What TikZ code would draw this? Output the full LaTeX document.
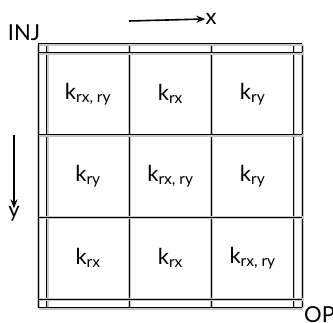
\documentclass[tikz,border=0pt]{standalone}
\usepackage{fontspec}
\setmainfont{Lato}
\usetikzlibrary{arrows.meta,positioning}

\newcommand{\ksub}[1]{k\raisebox{-2.5pt}{\fontsize{15.5}{16}\selectfont #1}}

\tikzset{
  gridline/.style={line width=1pt, draw=black,
    preaction={draw=black!22, line width=2.8pt, transform canvas={shift={(0.5pt,-0.6pt)}}}},
  axisarrow/.style={-{Stealth[length=9pt,width=7pt]}, line width=1.6pt},
  tag/.style={font=\fontsize{22}{24}\selectfont, inner sep=0pt},
}

\begin{document}
\begin{tikzpicture}[x=1pt, y=-1pt]
  \useasboundingbox (0,0) rectangle (333,323);
  % frame and cells
  \foreach \v in {38.3,46.7,129,211.3,293.5,302}
    \draw[gridline] (\v,44) -- (\v,307.7);
  \foreach \h in {44,52.7,135,217.2,299.3,307.7}
    \draw[gridline] (38.3,\h) -- (302,\h);
  % permeabilities
  \node[tag] (k11) at (87.8,94)  {\ksub{rx, ry}};
  \node[tag] (k12) at (170.2,94) {\ksub{rx}};
  \node[tag] (k13) at (252.4,94) {\ksub{ry}};
  \node[tag] (k21) at (87.8,176) {\ksub{ry}};
  \node[tag] (k22) at (170.2,176) {\ksub{rx, ry}};
  \node[tag] (k23) at (252.4,176) {\ksub{ry}};
  \node[tag] (k31) at (87.8,258) {\ksub{rx}};
  \node[tag] (k32) at (170.2,258) {\ksub{rx}};
  \node[tag] (k33) at (252.4,258) {\ksub{rx, ry}};
  % wells
  \node[tag] (inj) at (24,33) {INJ};
  \node[tag, anchor=west] (op) at (304,314.5) {OP};
  % axes
  \coordinate (xstart) at (129,21);
  \node[tag] (xlab) at (211,19) {x};
  \draw[axisarrow] (xstart) -- (xlab.west);
  \coordinate (ystart) at (14,135);
  \node[tag] (ylab) at (14,214) {y};
  \draw[axisarrow] (ystart) -- ([yshift=-2pt]ylab.north);
\end{tikzpicture}
\end{document}
